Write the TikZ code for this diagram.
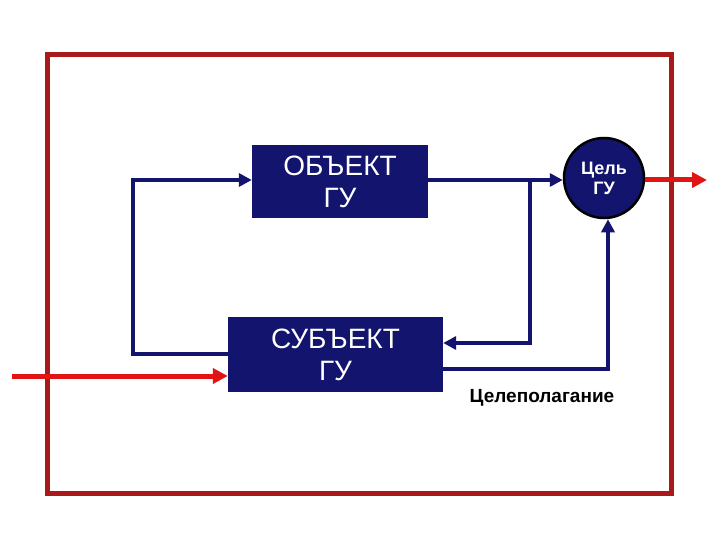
\documentclass[tikz,border=0pt]{standalone}
\usepackage{fontspec}
\setmainfont{Liberation Sans}
\usetikzlibrary{arrows.meta}
\definecolor{navy}{RGB}{18,20,110}
\definecolor{frame}{RGB}{170,25,25}
\definecolor{arr}{RGB}{225,20,20}
\begin{document}
\begin{tikzpicture}[x=1pt,y=-1pt,
  blk/.style={fill=navy,text=white,align=center,font=\fontsize{28}{32}\selectfont,inner sep=0pt},
  nline/.style={draw=navy,line width=4pt},
  narr/.style={nline,-{Triangle[length=13pt,width=13pt]}},
  rarr/.style={draw=arr,line width=5pt,-{Triangle[length=15pt,width=15pt]}}]
\useasboundingbox (0,0) rectangle (720,540);
\fill[white] (0,0) rectangle (720,540);
\draw[frame,line width=5pt] (47,55) rectangle (671,493);
\node[blk,minimum width=176pt,minimum height=73pt] (obj) at (340,181.5) {ОБЪЕКТ\\ГУ};
\node[blk,minimum width=215pt,minimum height=75pt] (sub) at (335.5,354.5) {СУБЪЕКТ\\ГУ};
\node[circle,fill=navy,draw=black,line width=2.5pt,minimum size=80pt,text=white,align=center,font=\bfseries\fontsize{18}{20}\selectfont,inner sep=0pt] (goal) at (604,178) {Цель\\ГУ};
\node[font=\bfseries\fontsize{19}{22}\selectfont] (lab) at (542,398) {Целеполагание};
\coordinate (s1) at (sub.west |- 0,354);
\draw[narr] (s1) -- (133,354) -- (133,180) -- (obj.west |- 0,180);
\draw[narr] (obj.east |- 0,180) -- (goal.west |- 0,180);
\draw[narr] (530,180) -- (530,343) -- (sub.east |- 0,343);
\draw[narr] (sub.east |- 0,369) -- (608,369) -- (goal.south -| 608,0);
\coordinate (in) at (12,376);
\coordinate (out) at (707,180);
\draw[rarr] (in) -- (sub.west |- 0,376);
\draw[rarr] (goal.east |- 0,180) -- (out);
\end{tikzpicture}
\end{document}
